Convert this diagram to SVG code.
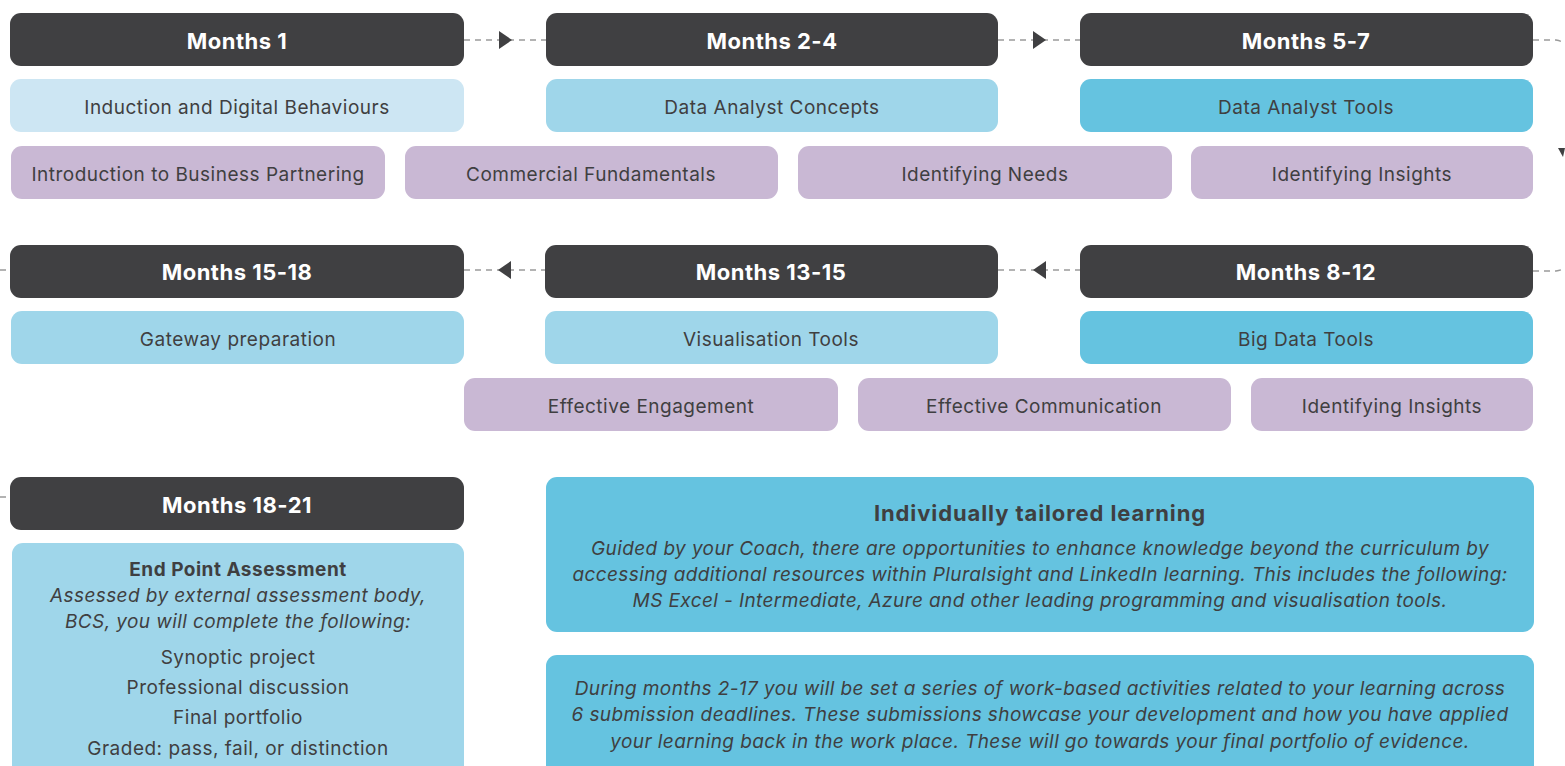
<svg xmlns="http://www.w3.org/2000/svg" width="1565" height="766" viewBox="0 0 1565 766">
<style>
.hd{fill:#404042}
.l1{fill:#cde6f3}
.l2{fill:#9fd6ea}
.l3{fill:#65c3e0}
.pu{fill:#c9b8d4}
text{font-family:Inter,"Noto Sans","Liberation Sans",sans-serif;fill:#3f3f41;text-anchor:middle;dominant-baseline:central}
.ht{fill:#ffffff;font-weight:700;font-size:22px;letter-spacing:0.5px}
.bt{font-size:19px;letter-spacing:0.5px}
.b{font-weight:700}
.it{font-style:italic;font-size:19px;letter-spacing:0.4px}
.tt{font-weight:700;font-size:22px;letter-spacing:0.9px}
.dash{fill:none;stroke:#9a9a9a;stroke-width:1.5;stroke-dasharray:6 5}
.ah{fill:#404042}
</style>
<rect width="1565" height="766" fill="#ffffff"/>
<g id="connectors">
<line class="dash" x1="464" y1="40" x2="546" y2="40"/>
<polygon class="ah" points="499,31 512,40 499,49"/>
<line class="dash" x1="998" y1="40" x2="1080" y2="40"/>
<polygon class="ah" points="1033,31 1046,40 1033,49"/>
<path class="dash" d="M1533,40 L1556,40 Q1562,41 1565,44"/>
<polygon class="ah" points="1558,148 1565,148 1563,157"/>
<line class="dash" x1="464" y1="270" x2="545" y2="270"/>
<polygon class="ah" points="511,261 498,270 511,279"/>
<line class="dash" x1="998" y1="270" x2="1080" y2="270"/>
<polygon class="ah" points="1046,261 1033,270 1046,279"/>
<path class="dash" d="M1533,271 L1556,271 Q1562,270 1565,268"/>
<line class="dash" x1="0" y1="270" x2="10" y2="270"/>
<line class="dash" x1="0" y1="497" x2="10" y2="497"/>
</g>
<g id="m1"><rect class="hd" x="10" y="13" width="454" height="53" rx="11"/><text class="ht" x="237" y="41">Months 1</text></g>
<g id="m24"><rect class="hd" x="546" y="13" width="452" height="53" rx="11"/><text class="ht" x="772" y="41">Months 2-4</text></g>
<g id="m57"><rect class="hd" x="1080" y="13" width="453" height="53" rx="11"/><text class="ht" x="1306" y="41">Months 5-7</text></g>
<g id="induction"><rect class="l1" x="10" y="79" width="454" height="53" rx="11"/><text class="bt" x="237" y="107">Induction and Digital Behaviours</text></g>
<g id="dac"><rect class="l2" x="546" y="79" width="452" height="53" rx="11"/><text class="bt" x="772" y="107">Data Analyst Concepts</text></g>
<g id="dat"><rect class="l3" x="1080" y="79" width="453" height="53" rx="11"/><text class="bt" x="1306" y="107">Data Analyst Tools</text></g>
<g id="ibp"><rect class="pu" x="11" y="146" width="374" height="53" rx="11"/><text class="bt" x="198" y="174">Introduction to Business Partnering</text></g>
<g id="cf"><rect class="pu" x="405" y="146" width="373" height="53" rx="11"/><text class="bt" x="591" y="174">Commercial Fundamentals</text></g>
<g id="in"><rect class="pu" x="798" y="146" width="374" height="53" rx="11"/><text class="bt" x="985" y="174">Identifying Needs</text></g>
<g id="ii1"><rect class="pu" x="1191" y="146" width="342" height="53" rx="11"/><text class="bt" x="1362" y="174">Identifying Insights</text></g>
<g id="m1518"><rect class="hd" x="10" y="245" width="454" height="53" rx="11"/><text class="ht" x="237" y="272">Months 15-18</text></g>
<g id="m1315"><rect class="hd" x="545" y="245" width="453" height="53" rx="11"/><text class="ht" x="771" y="272">Months 13-15</text></g>
<g id="m812"><rect class="hd" x="1080" y="245" width="453" height="53" rx="11"/><text class="ht" x="1306" y="272">Months 8-12</text></g>
<g id="gp"><rect class="l2" x="11" y="311" width="453" height="53" rx="11"/><text class="bt" x="238" y="339">Gateway preparation</text></g>
<g id="vt"><rect class="l2" x="545" y="311" width="453" height="53" rx="11"/><text class="bt" x="771" y="339">Visualisation Tools</text></g>
<g id="bdt"><rect class="l3" x="1080" y="311" width="453" height="53" rx="11"/><text class="bt" x="1306" y="339">Big Data Tools</text></g>
<g id="ee"><rect class="pu" x="464" y="378" width="374" height="53" rx="11"/><text class="bt" x="651" y="406">Effective Engagement</text></g>
<g id="ec"><rect class="pu" x="858" y="378" width="373" height="53" rx="11"/><text class="bt" x="1044" y="406">Effective Communication</text></g>
<g id="ii2"><rect class="pu" x="1251" y="378" width="282" height="53" rx="11"/><text class="bt" x="1392" y="406">Identifying Insights</text></g>
<g id="m1821"><rect class="hd" x="10" y="477" width="454" height="53" rx="11"/><text class="ht" x="237" y="505">Months 18-21</text></g>
<g id="epa"><rect class="l2" x="12" y="543" width="452" height="240" rx="11"/>
<text class="bt b" x="238" y="569">End Point Assessment</text>
<text class="it" x="238" y="595">Assessed by external assessment body,</text>
<text class="it" x="238" y="621">BCS, you will complete the following:</text>
<text class="bt" x="238" y="657">Synoptic project</text>
<text class="bt" x="238" y="687">Professional discussion</text>
<text class="bt" x="238" y="717">Final portfolio</text>
<text class="bt" x="238" y="748">Graded: pass, fail, or distinction</text>
</g>
<g id="itl"><rect class="l3" x="546" y="477" width="988" height="155" rx="11"/>
<text class="tt" x="1040" y="513">Individually tailored learning</text>
<text class="it" x="1040" y="548">Guided by your Coach, there are opportunities to enhance knowledge beyond the curriculum by</text>
<text class="it" x="1040" y="574">accessing additional resources within Pluralsight and LinkedIn learning. This includes the following:</text>
<text class="it" x="1040" y="600">MS Excel - Intermediate, Azure and other leading programming and visualisation tools.</text>
</g>
<g id="wba"><rect class="l3" x="546" y="655" width="988" height="130" rx="11"/>
<text class="it" x="1040" y="688">During months 2-17 you will be set a series of work-based activities related to your learning across</text>
<text class="it" x="1040" y="714">6 submission deadlines. These submissions showcase your development and how you have applied</text>
<text class="it" x="1040" y="741">your learning back in the work place. These will go towards your final portfolio of evidence.</text>
</g>
</svg>
